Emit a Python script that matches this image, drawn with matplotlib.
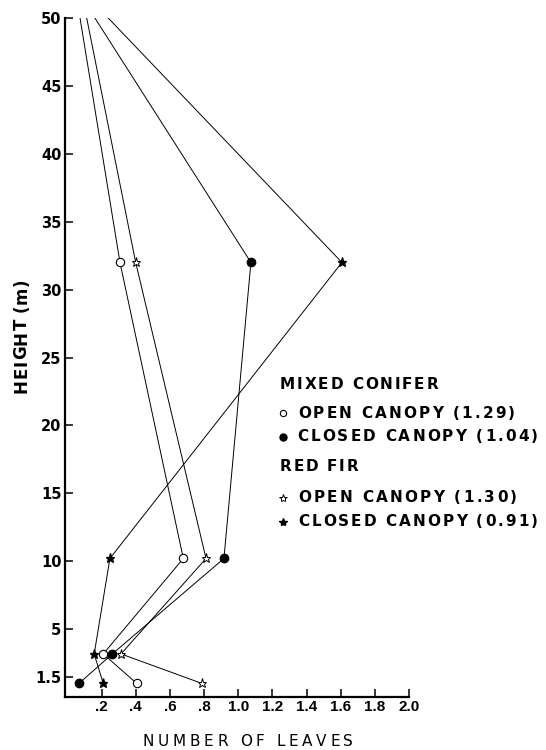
import matplotlib
matplotlib.use("Agg")
import matplotlib.pyplot as plt
from matplotlib.font_manager import findfont, FontProperties
from matplotlib.ft2font import FT2Font

heights = [1.0, 3.17, 10.2, 32.0, 50.0]
mc_open = [0.405, 0.209, 0.678, 0.307, 0.073]
mc_closed = [0.067, 0.262, 0.916, 1.074, 0.160]
rf_open = [0.787, 0.313, 0.811, 0.399, 0.112]
rf_closed = [0.209, 0.156, 0.248, 1.607, 0.238]
xticks = [0.2, 0.4, 0.6, 0.8, 1.0, 1.2, 1.4, 1.6, 1.8, 2.0]
xticklabels = [".2", ".4", ".6", ".8", "1.0", "1.2", "1.4", "1.6", "1.8", "2.0"]
yticks = [1.5, 5, 10, 15, 20, 25, 30, 35, 40, 45, 50]
yticklabels = ["1.5", "5", "10", "15", "20", "25", "30", "35", "40", "45", "50"]
legend_heads = ["MIXED CONIFER", "RED FIR"]
legend_items = ["OPEN CANOPY (1.29)", "CLOSED CANOPY (1.04)",
                "OPEN CANOPY (1.30)", "CLOSED CANOPY (0.91)"]
xlabel = "NUMBER OF LEAVES"
ylabel = "HEIGHT (m)"

plt.rcParams['font.family'] = ['DejaVu Sans']
W, H = 546, 750
fig = plt.figure(figsize=(W / 100, H / 100), dpi=100)
ax = fig.add_axes([65 / W, 1 - 697 / H, (409 - 65) / W, (697 - 18) / H])

lw = 0.7
mk = [0, 1, 2, 3]
ax.plot(mc_open, heights, color='black', lw=lw, marker='o', ms=6, mfc='white',
        mec='black', mew=0.8, markevery=mk, zorder=3)
ax.plot(mc_closed, heights, color='black', lw=lw, marker='o', ms=6, mfc='black',
        mec='black', markevery=mk, zorder=3)
ax.plot(rf_open, heights, color='black', lw=lw, marker='*', ms=6.5, mfc='white',
        mec='black', mew=0.7, markevery=mk, zorder=3)
ax.plot(rf_closed, heights, color='black', lw=lw, marker='*', ms=6.5, mfc='black',
        mec='black', markevery=mk, zorder=3)

ax.set_xlim(-0.015, 2.0)
ax.set_ylim(0, 50)
ax.set_xticks(xticks)
ax.set_xticklabels(xticklabels, family='Liberation Sans', fontweight='bold', fontsize=11)
ax.set_yticks(yticks)
ax.set_yticklabels(yticklabels, family='DejaVu Sans', fontweight='bold', fontsize=10.5)
for s in ['top', 'right']:
    ax.spines[s].set_visible(False)
ax.spines['left'].set_linewidth(1.6)
ax.spines['bottom'].set_linewidth(1.6)
ax.tick_params(direction='in', length=5.5, width=1.1)
ax.tick_params(axis='y', pad=2.5)
ax.tick_params(axis='x', pad=2.5)

# overlay in pixel coordinates for labels and key
lax = fig.add_axes([0, 0, 1, 1], facecolor='none')
lax.set_xlim(0, W)
lax.set_ylim(H, 0)
lax.axis('off')


def advances(s, weight, size):
    f = FT2Font(findfont(FontProperties(family='DejaVu Sans', weight=weight)))
    f.set_size(size, 100)
    return [f.load_char(ord(c)).linearHoriAdvance / 65536 for c in s]


def spaced(s, x0, x1, base, size, weight='bold', vertical=False):
    adv = advances(s, weight, size)
    extra = ((x1 - x0) - sum(adv)) / (len(s) - 1)
    pos = 0.0
    for i, c in enumerate(s):
        if c != ' ':
            p = x0 + pos
            if vertical:
                lax.text(base, p, c, rotation=90, rotation_mode='anchor',
                         ha='left', va='baseline', fontsize=size,
                         fontweight=weight, clip_on=False)
            else:
                lax.text(p, base, c, ha='left', va='baseline', fontsize=size,
                         fontweight=weight, clip_on=False)
        pos += adv[i] + extra


def spaced_up(s, ybot, ytop, basex, size, weight='bold'):
    adv = advances(s, weight, size)
    extra = ((ybot - ytop) - sum(adv)) / (len(s) - 1)
    pos = 0.0
    for i, c in enumerate(s):
        if c != ' ':
            lax.text(basex, ybot - pos, c, rotation=90, rotation_mode='anchor',
                     ha='left', va='baseline', fontsize=size,
                     fontweight=weight, clip_on=False)
        pos += adv[i] + extra


spaced(legend_heads[0], 280, 438, 389, 11)
spaced(legend_items[0], 298, 515, 417.5, 11)
spaced(legend_items[1], 297, 538, 441, 11)
spaced(legend_heads[1], 280, 358, 471, 11)
spaced(legend_items[2], 298, 517, 502.5, 11)
spaced(legend_items[3], 298, 538, 526, 11)

lax.plot([283], [412.5], marker='o', ms=4.5, mfc='white', mec='black', mew=0.8)
lax.plot([283], [437], marker='o', ms=5, mfc='black', mec='black')
lax.plot([283], [497.5], marker='*', ms=6, mfc='white', mec='black', mew=0.7)
lax.plot([283], [521.5], marker='*', ms=6, mfc='black', mec='black')

spaced(xlabel, 143, 353, 746.5, 11, weight='normal')
spaced_up(ylabel, 393, 278, 26.5, 12)

fig.savefig("out.png", dpi=100)
